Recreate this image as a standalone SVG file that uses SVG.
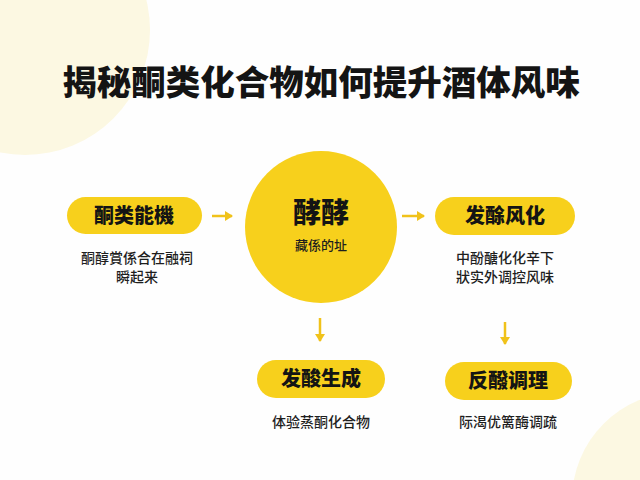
<svg xmlns="http://www.w3.org/2000/svg" width="640" height="480" viewBox="0 0 640 480">
<defs>
<style>
.t{font-family:"Noto Sans CJK SC","Noto Sans",sans-serif;fill:#141414;text-anchor:middle}
.title{font-size:34.5px;font-weight:900}
.pl{font-size:20px;font-weight:900}
.ds{font-size:14px;font-weight:500;fill:#1e1e1e}
.pill{fill:#f7d01c}
.arr{stroke:#f0c21a;stroke-width:2.5;fill:none}
</style>
<marker id="ah" markerWidth="10" markerHeight="10" refX="7" refY="5" orient="auto" markerUnits="userSpaceOnUse">
<path d="M0,0 L8,5 L0,10 Z" fill="#f0c21a"/>
</marker>
</defs>
<rect width="640" height="480" fill="#fefefe"/>
<circle cx="25" cy="30" r="125" fill="#fcf8e2"/>
<circle cx="680" cy="500" r="108" fill="#fcf8e2"/>
<text class="t title" x="321" y="95">揭秘酮类化合物如何提升酒体风味</text>
<g id="n1">
<rect class="pill" x="67" y="197" width="135" height="37" rx="18.5"/>
<text class="t pl" x="134" y="223">酮类能機</text>
<text class="t ds" x="137" y="263">酮醇賞係合在融祠</text>
<text class="t ds" x="137" y="282">瞬起来</text>
</g>
<g id="n2">
<circle cx="321" cy="227" r="76" fill="#f7d01c"/>
<text class="t" x="321" y="223" style="font-size:28px;font-weight:900">酵酵</text>
<text class="t ds" x="321" y="250" style="font-size:13px">藏係的址</text>
</g>
<g id="n3">
<rect class="pill" x="435" y="197" width="140" height="38" rx="19"/>
<text class="t pl" x="505" y="223">发酴风化</text>
<text class="t ds" x="505" y="263">中酚醣化化辛下</text>
<text class="t ds" x="505" y="282">狀实外调控风味</text>
</g>
<g id="n4">
<rect class="pill" x="257" y="360" width="128" height="38" rx="19"/>
<text class="t pl" x="321" y="386">发酸生成</text>
<text class="t ds" x="321" y="427">体验蒸酮化合物</text>
</g>
<g id="n5">
<rect class="pill" x="445" y="362" width="127" height="38" rx="19"/>
<text class="t pl" x="508" y="388">反醱调理</text>
<text class="t ds" x="508" y="427">际渴优篱酶调疏</text>
</g>
<g id="connectors">
<line class="arr" x1="212" y1="216" x2="232" y2="216" marker-end="url(#ah)"/>
<line class="arr" x1="402" y1="216" x2="424" y2="216" marker-end="url(#ah)"/>
<line class="arr" x1="320" y1="318" x2="320" y2="341" marker-end="url(#ah)"/>
<line class="arr" x1="505" y1="322" x2="505" y2="344" marker-end="url(#ah)"/>
</g>
</svg>
